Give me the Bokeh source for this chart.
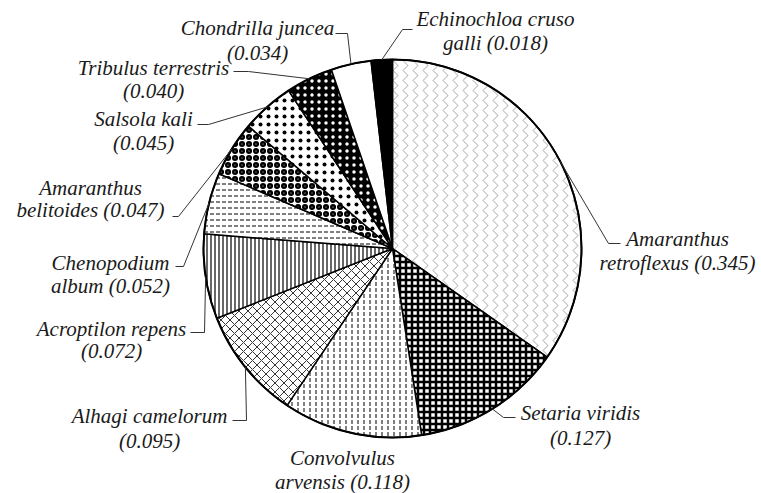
import math
from bokeh.plotting import figure
from bokeh.models import ColumnDataSource, Range1d
from bokeh.embed import file_html
from bokeh.resources import INLINE

# ---------------- data ----------------
species = ["Amaranthus retroflexus", "Setaria viridis", "Convolvulus arvensis",
           "Alhagi camelorum", "Acroptilon repens", "Chenopodium album",
           "Amaranthus belitoides", "Salsola kali", "Tribulus terrestris",
           "Chondrilla juncea", "Echinochloa cruso galli"]
values = [0.345, 0.127, 0.118, 0.095, 0.072, 0.052, 0.047, 0.045, 0.040, 0.034, 0.018]
first_line_words = [1, 2, 1, 2, 2, 1, 1, 2, 2, 2, 2]

# ---------------- styles ----------------
fill_colors = ["white", "white", "white", "white", "white", "white",
               "white", "white", "black", "white", "black"]
hatch_patterns = [">", "+", ":", "x", "|", '"', "o", ".", ".", " ", " "]
hatch_colors = ["#333333"] + ["black"] * 7 + ["white", "black", "black"]
hatch_scales = [10, 6, 6, 9, 4, 6, 7, 8, 7, 12, 12]
hatch_weights = [0.45, 2.5, 1.0, 0.8, 1.2, 1.0, 2.5, 0.5, 1.2, 1.0, 1.0]
FONT = "Liberation Serif"

# ---------------- layout (reference pixel coordinates) ----------------
CX, CY, R = 392, 248, 189
label_x = [677, 580, 342, 149, 111, 110, 90, 143, 153, 257, 495]
label_y1 = [238, 412, 457, 415, 328, 262, 187, 118, 67, 27, 18]
label_y2 = [262, 437, 481, 440, 350, 285, 209, 142, 90, 52, 42]
elbow = [(608, 243), (503, 417), None, (246, 420), (204, 332), (183, 266),
         (178, 216), (208, 124), (248, 71), (347, 33), (402, 29)]
tail = [(620, 243), (515, 417), None, (232, 420), (190, 332), (175, 266),
        (172, 216), (197, 124), (233, 71), (335, 33), (412, 29)]

W, H = 761, 493
p = figure(width=W, height=H, output_backend="svg", toolbar_location=None,
           x_range=Range1d(0, W), y_range=Range1d(-H, 0),
           min_border=0, outline_line_color=None, background_fill_color="white")
p.axis.visible = False
p.grid.visible = False

total = sum(values)
starts, ends, mids = [], [], []
cum = 0.0
for v in values:
    a0 = math.pi / 2 - 2 * math.pi * cum / total
    a1 = math.pi / 2 - 2 * math.pi * (cum + v) / total
    starts.append(a0)
    ends.append(a1)
    mids.append((a0 + a1) / 2)
    cum += v

src = ColumnDataSource(dict(
    x=[CX] * len(values), y=[-CY] * len(values),
    start=starts, end=ends, fill=fill_colors, hp=hatch_patterns,
    hc=hatch_colors, hs=hatch_scales, hw=hatch_weights))
p.wedge(x="x", y="y", radius=R, start_angle="start", end_angle="end",
        direction="clock", source=src, fill_color="fill", line_color="black",
        line_width=1.5, hatch_pattern="hp", hatch_color="hc",
        hatch_scale="hs", hatch_weight="hw")
p.circle(x=[CX], y=[-CY], radius=R, fill_color=None, line_color="black", line_width=2)

# leader lines
xs, ys = [], []
for i, m in enumerate(mids):
    if elbow[i] is None:
        continue
    ex = CX + R * math.cos(m)
    ey = -CY + R * math.sin(m)
    xs.append([ex, elbow[i][0], tail[i][0]])
    ys.append([ey, -elbow[i][1], -tail[i][1]])
p.multi_line(xs, ys, line_color="#333333", line_width=1)

# labels
t_x, t_y, t_txt = [], [], []
for i, name in enumerate(species):
    words = name.split(" ")
    k = first_line_words[i]
    l1 = " ".join(words[:k])
    rest = " ".join(words[k:])
    l2 = (rest + " " if rest else "") + "(%.3f)" % values[i]
    t_x += [label_x[i], label_x[i]]
    t_y += [-label_y1[i], -label_y2[i]]
    t_txt += [l1, l2]
lsrc = ColumnDataSource(dict(x=t_x, y=t_y, text=t_txt, font=[FONT] * len(t_x)))
p.text(x="x", y="y", text="text", source=lsrc, text_align="center", text_baseline="middle",
       text_font="font", text_font_style="italic", text_font_size="21px",
       text_color="#1a1a1a")

open("out.html", "w").write(file_html(p, INLINE))
